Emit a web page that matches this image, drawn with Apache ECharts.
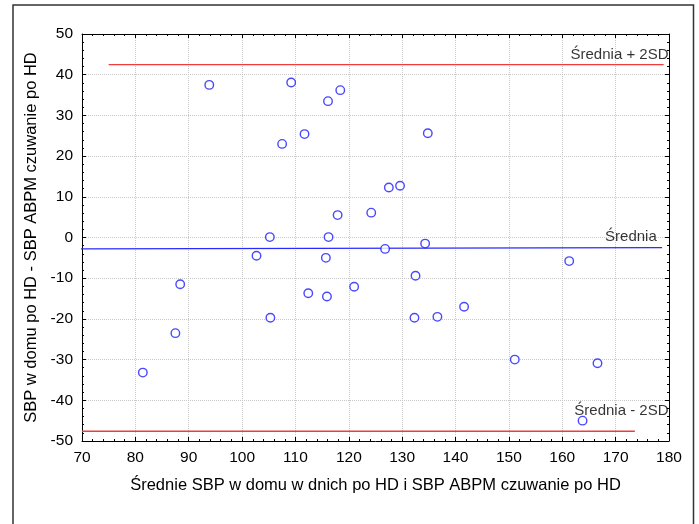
<!DOCTYPE html>
<html>
<head>
<meta charset="utf-8">
<script src="https://cdn.jsdelivr.net/npm/echarts@6/dist/echarts.min.js"></script>
<style>html,body{margin:0;padding:0;background:#fff;}#c{width:699px;height:524px;}</style>
</head>
<body>
<div id="c"></div>
<script>
// Data (mean of methods vs difference)
const meanX = [93.85,109.2,116.1,118.4,107.5,111.7,117.9,105.2,116.2,102.7,115.7,
  134.8,127.5,129.6,124.2,126.8,134.3,161.3,
  88.4,112.4,115.9,105.3,87.5,81.4,
  121.0,132.5,132.3,136.6,141.6,151.1,166.6,163.8];
const diffY = [37.5,38.1,33.5,36.2,23.0,25.4,5.5,0.1,0.1,-4.5,-5.0,
  25.6,12.3,12.7,6.1,-2.8,-1.5,-5.8,
  -11.5,-13.7,-14.5,-19.7,-23.5,-33.2,
  -12.1,-9.4,-19.7,-19.5,-17.0,-30.0,-30.9,-45.0];
const upperLine = [[75,42.5],[179,42.5]];
const meanLine = [[69,-2.8],[178.7,-2.5]];
const lowerLine = [[70,-47.6],[173.6,-47.6]];
const labelTexts = ['Średnia + 2SD','Średnia','Średnia - 2SD'];
const labelPos = [[180,44.8],[177.8,0.1],[180,-42.6]];
const xTicks = {min:70,max:180,interval:10};
const yTicks = {min:-50,max:50,interval:10};
const xTitle = 'Średnie SBP w domu w dnich po HD i SBP ABPM czuwanie po HD';
const yTitle = 'SBP w domu po HD - SBP ABPM czuwanie po HD';

const font = 'Liberation Sans, Arial, sans-serif';
const chart = echarts.init(document.getElementById('c'), null, {renderer:'canvas'});
const axisBase = {
  axisLine:{show:true,onZero:false,lineStyle:{color:'#000',width:1}},
  axisTick:{show:true,inside:true,length:4,lineStyle:{color:'#000'}},
  minorTick:{show:true,splitNumber:5,length:2,lineStyle:{color:'#000'}},
};
chart.setOption({
  animation:false,
  backgroundColor:'#fff',
  grid:{left:82,right:30,top:34,bottom:83,containLabel:false},
  graphic:[{type:'rect',shape:{x:13,y:5,width:680.5,height:540},style:{fill:'none',stroke:'#333',lineWidth:1.5},silent:true}],
  xAxis:[
    Object.assign({type:'value',position:'bottom',min:xTicks.min,max:xTicks.max,interval:xTicks.interval,
      name:xTitle,nameLocation:'middle',nameGap:36,
      nameTextStyle:{fontFamily:font,fontSize:16.5,color:'#000'},
      axisLabel:{fontFamily:font,fontSize:15.5,color:'#000',margin:9},
      splitLine:{show:true,lineStyle:{color:'#c8c8c8',type:'dotted',width:1}}},axisBase),
    Object.assign({type:'value',position:'top',min:xTicks.min,max:xTicks.max,interval:xTicks.interval,
      axisLabel:{show:false},splitLine:{show:false}},axisBase)
  ],
  yAxis:[
    Object.assign({type:'value',position:'left',min:yTicks.min,max:yTicks.max,interval:yTicks.interval,
      name:yTitle,nameLocation:'middle',nameGap:41,
      nameTextStyle:{fontFamily:font,fontSize:16.5,color:'#000'},
      axisLabel:{fontFamily:font,fontSize:15.5,color:'#000',margin:9},
      splitLine:{show:true,lineStyle:{color:'#c8c8c8',type:'dotted',width:1}}},axisBase),
    Object.assign({type:'value',position:'right',min:yTicks.min,max:yTicks.max,interval:yTicks.interval,
      axisLabel:{show:false},splitLine:{show:false}},axisBase)
  ],
  series:[
    {type:'line',data:upperLine,symbol:'none',clip:false,lineStyle:{color:'#f03c3c',width:1.3},z:3},
    {type:'line',data:meanLine,symbol:'none',clip:false,lineStyle:{color:'#2a2aff',width:1.3},z:3},
    {type:'line',data:lowerLine,symbol:'none',clip:false,lineStyle:{color:'#f03c3c',width:1.3},z:3},
    {type:'scatter',data:meanX.map((x,i)=>[x,diffY[i]]),symbol:'circle',symbolSize:8.5,clip:false,
      itemStyle:{color:'#fff',borderColor:'#1a1aff',borderWidth:1.4},z:5},
    {type:'scatter',data:labelPos.map((p,i)=>({value:p,name:labelTexts[i]})),symbolSize:1,clip:false,
      itemStyle:{color:'rgba(0,0,0,0)'},
      label:{show:true,position:'left',distance:0,formatter:p=>p.name,fontFamily:font,fontSize:15,color:'#000'},z:6}
  ]
});
</script>
</body>
</html>
